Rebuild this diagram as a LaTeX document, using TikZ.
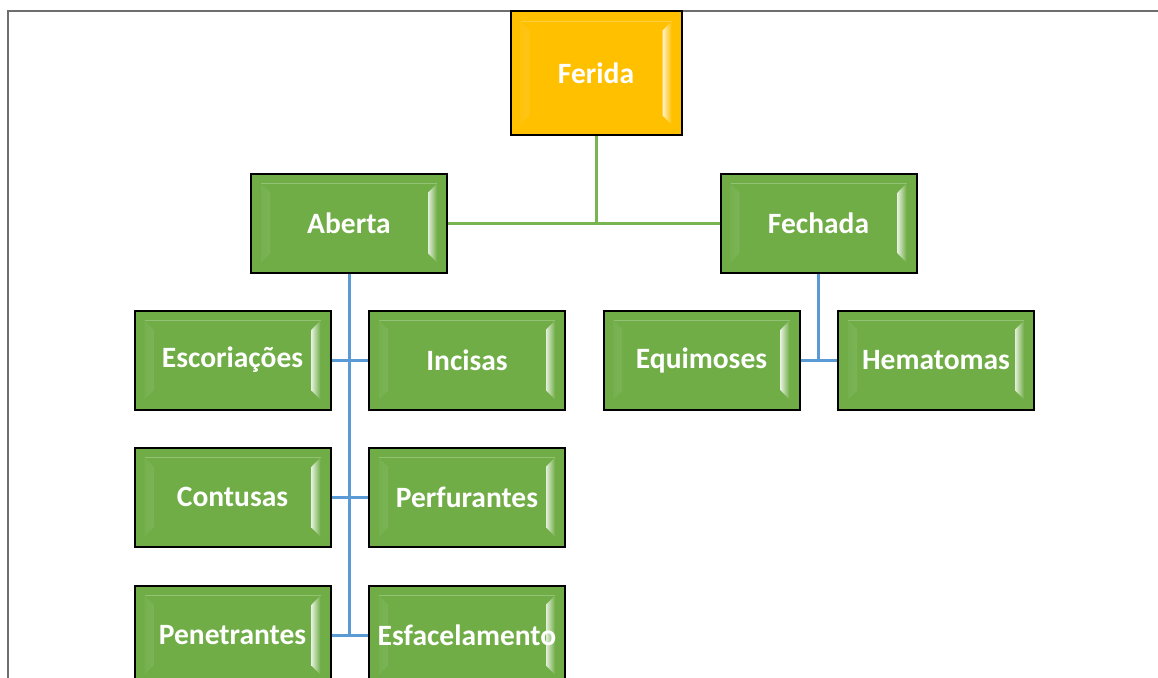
\documentclass[tikz,border=0pt]{standalone}
\usepackage{fontspec}
\setmainfont{Carlito}
\usepackage{tikz}

\definecolor{boxgreen}{HTML}{70AD47}
\definecolor{boxgold}{HTML}{FFC000}
\definecolor{linegreen}{HTML}{78B450}
\definecolor{lineblue}{HTML}{5B9BD5}
\definecolor{framegray}{HTML}{6E6E6E}

\begin{document}
\begin{tikzpicture}[x=1pt,y=-1pt]
			\tikzset{cardbox/.style = {shape=rectangle,draw=black,line width=2pt,fill=#1,
				minimum width=196pt,minimum height=99pt,inner sep=0pt,
				font=\bfseries\fontsize{29.5}{34}\selectfont,text=white,
				path picture={
					\shade[left color=#1,right color=white!80!#1]
						([shift={(10pt,-10pt)}]path picture bounding box.north west) --
						([shift={(19pt,-19pt)}]path picture bounding box.north west) --
						([shift={(19pt,19pt)}]path picture bounding box.south west) --
						([shift={(10pt,10pt)}]path picture bounding box.south west) -- cycle;
					\shade[left color=white!80!#1,right color=#1]
						([shift={(-10pt,-10pt)}]path picture bounding box.north east) --
						([shift={(-19pt,-19pt)}]path picture bounding box.north east) --
						([shift={(-19pt,19pt)}]path picture bounding box.south east) --
						([shift={(-10pt,10pt)}]path picture bounding box.south east) -- cycle;
					\draw[white!25!#1,line width=0.6pt]
						([shift={(10pt,-10pt)}]path picture bounding box.north west) --
						([shift={(-10pt,-10pt)}]path picture bounding box.north east);
				}},
				cardbox/.default=boxgreen}
			\tikzset{trunk/.style = {draw=linegreen,line width=3pt}}
			\tikzset{branch/.style = {draw=lineblue,line width=3pt}}
			\useasboundingbox (0,0) rectangle (1158,677);
			% frame
			\draw[framegray,line width=1.8pt] (8,11) rectangle (1200,720);
			% vertices
			\node[cardbox=boxgold,minimum width=171pt,minimum height=123pt] (ferida) at (596,73) {Ferida};
			\node[cardbox] (aberta) at (349,223) {Aberta};
			\node[cardbox] (fechada) at (818.5,223) {Fechada};
			\node[cardbox] (escor) at (232.5,360) {Escoriações};
			\node[cardbox] (incis) at (467,360) {Incisas};
			\node[cardbox] (equim) at (701.5,360) {Equimoses};
			\node[cardbox] (hemat) at (936,360) {Hematomas};
			\node[cardbox] (contus) at (232.5,497) {Contusas};
			\node[cardbox] (perfur) at (467,497) {Perfurantes};
			\node[cardbox] (penet) at (232.5,635) {Penetrantes};
			\node[cardbox] (esfac) at (467,635) {Esfacelamento};
			% edges
			\draw[trunk] (ferida.south) -- (ferida.south |- aberta.east);
			\draw[trunk] (aberta.east) -- (fechada.west);
			\draw[branch] (aberta.south) -- (aberta.south |- penet.east);
			\draw[branch] (escor.east) -- (incis.west);
			\draw[branch] (contus.east) -- (perfur.west);
			\draw[branch] (penet.east) -- (esfac.west);
			\draw[branch] (fechada.south) -- (fechada.south |- equim.east);
			\draw[branch] (equim.east) -- (hemat.west);
		\end{tikzpicture}
\end{document}
